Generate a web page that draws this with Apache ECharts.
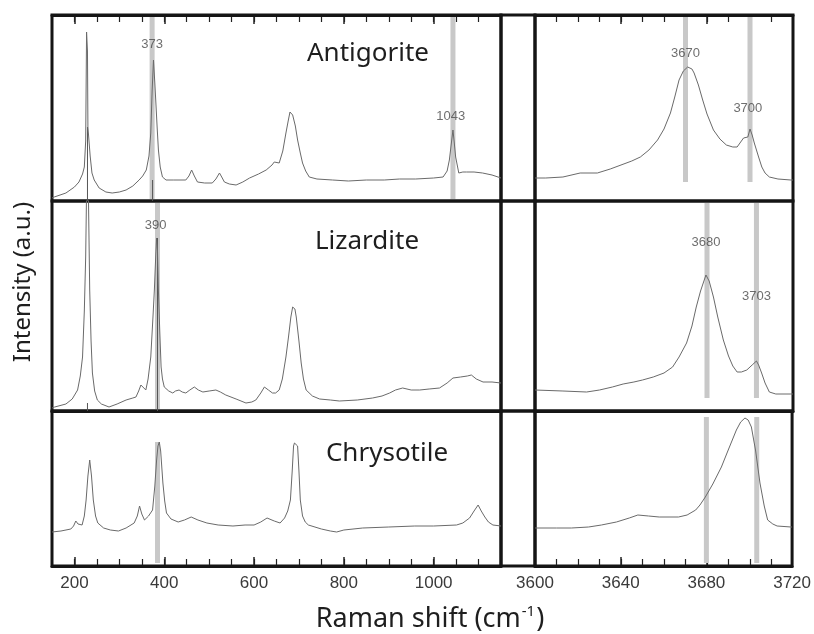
<!DOCTYPE html>
<html><head><meta charset="utf-8">
<script src="https://cdn.jsdelivr.net/npm/echarts@6/dist/echarts.min.js"></script>
<style>html,body{margin:0;padding:0;background:#fff}#c{width:814px;height:634px}</style>
</head><body><div id="c"></div>
<script>
// ---- tick labels ----
const leftTickLabels = [200, 400, 600, 800, 1000];
const rightTickLabels = [3600, 3640, 3680, 3720];
const mineralNames = ['Antigorite', 'Lizardite', 'Chrysotile'];

// ---- spectra [Raman shift, intensity] ----
const antigoriteLow = [[150,3],[155,4],[181,8],[200,14],[210,19],[218,27],[222,34],[225,60],[227,169],[229,150],[230,74],[232,72],[235,45],[239,28],[244,21],[255,13],[270,9],[284,8],[300,9],[315,11],[330,15],[344,21],[352,25],[360,31],[366,45],[370,68],[373,110],[376,141],[379,118],[381,101],[384,75],[387,51],[391,34],[396,24],[404,21],[420,21],[448,21],[455,25],[461,31],[467,25],[474,19],[490,18],[507,18],[515,22],[523,28],[528,24],[534,19],[545,17],[560,16],[575,19],[590,23],[610,27],[627,31],[640,36],[645,39],[656,38],[664,50],[671,68],[676,80],[680,89],[686,86],[692,75],[697,61],[703,48],[708,38],[715,30],[723,24],[740,22],[775,21],[810,20],[850,21],[890,21],[924,22],[960,22],[1000,23],[1021,24],[1030,30],[1035,41],[1040,60],[1043,71],[1046,58],[1049,44],[1056,28],[1065,29],[1073,29],[1090,29],[1109,28],[1130,26],[1150,23]];
const antigoriteOH = [[3600,23],[3605,23],[3613,24],[3621,28],[3629,28],[3635,32],[3640,36],[3645,40],[3649,44],[3653,51],[3657,61],[3660,72],[3663,88],[3665,104],[3667,121],[3669,130],[3671,134],[3673,132],[3674,128],[3676,116],[3678,101],[3680,87],[3683,71],[3686,62],[3689,56],[3692,54],[3694,54],[3696,60],[3697,63],[3699,64],[3700,72],[3701,66],[3702,58],[3704,44],[3705.5,34],[3707,28],[3709,24],[3713,22],[3719,21],[3720,21]];
const lizarditeLow = [[150,3],[156,4],[181,7],[195,12],[207,21],[213,35],[218,54],[222,100],[225,154],[227,220],[229,240],[231,220],[234,121],[237,70],[240,38],[245,20],[251,11],[260,7],[277,4],[295,7],[315,11],[330,13],[337,14],[343,20],[348,26],[352,24],[359,21],[364,32],[370,54],[375,95],[378,121],[381,155],[383,173],[385,160],[387,121],[390,80],[393,44],[396,32],[400,24],[410,20],[419,18],[425,20],[433,21],[440,19],[448,18],[457,21],[467,24],[476,21],[486,19],[500,20],[515,21],[525,19],[537,16],[560,12],[582,8],[595,9],[604,11],[615,18],[623,24],[632,21],[641,18],[648,18],[656,21],[663,32],[671,54],[677,75],[682,94],[686,104],[688,106],[691,102],[694,94],[700,70],[705,48],[710,32],[716,21],[730,15],[746,12],[770,11],[790,10],[830,11],[864,13],[885,15],[902,18],[915,21],[931,23],[950,21],[969,21],[990,22],[1013,23],[1030,28],[1043,33],[1060,34],[1075,35],[1084,36],[1095,32],[1110,29],[1130,29],[1150,28]];
const lizarditeOH = [[3600,21],[3613,20],[3624,19],[3630,21],[3636,24],[3641,27],[3646,29],[3650,31],[3655,34],[3660,38],[3664,44],[3667,54],[3670.5,68],[3673,85],[3675,104],[3677,120],[3679.5,136],[3681,130],[3683,114],[3685,94],[3687.6,71],[3690,55],[3692,45],[3694,39],[3696,39],[3698.5,41],[3701,46],[3703,50],[3704,46],[3705.4,38],[3707,28],[3709,19],[3712,17],[3719,17],[3720,17]];
const chrysotileLow = [[150,34],[152,34],[170,35],[192,37],[198,40],[203,45],[208,42],[217,41],[222,50],[226,66],[230,90],[234,106],[238,90],[242,66],[247,50],[252,43],[265,38],[280,36],[298,35],[315,38],[333,43],[340,50],[345,60],[350,52],[356,46],[365,50],[374,56],[379,80],[383,106],[386,120],[389,124],[392,115],[397,83],[401,65],[405,53],[415,47],[431,44],[445,46],[460,49],[475,46],[495,43],[520,41],[553,40],[580,41],[600,41],[615,44],[629,48],[645,45],[658,43],[668,48],[675,55],[681,66],[685,95],[688,120],[690,123],[694,124],[697,120],[700,95],[703,66],[708,50],[714,44],[721,41],[750,37],[770,35],[784,34],[800,36],[842,38],[900,39],[958,40],[1000,40],[1051,41],[1065,43],[1080,48],[1090,55],[1099,61],[1106,55],[1114,49],[1122,44],[1132,41],[1150,40]];
const chrysotileOH = [[3600,38],[3610,38],[3617,38],[3625,39],[3631,41],[3638,44],[3644,48],[3648,51],[3653,50],[3658,49],[3663,49],[3667,49],[3671,51],[3675,56],[3677,61],[3679.5,69],[3683,82],[3687,99],[3690,115],[3694,136],[3696,144],[3698,148],[3699.5,146],[3701,139],[3703,115],[3705,83],[3707,60],[3708.6,46],[3711,42],[3713,40],[3719.5,39],[3720,39]];

// ---- highlighted band positions [shift, from, to] ----
const antigoriteLowBands = [[373,2,184],[1043,2,184]];
const antigoriteOHBands = [[3670,19,184],[3700,19,184]];
const lizarditeLowBands = [[385,2,208]];
const lizarditeOHBands = [[3680,13,208],[3703,13,208]];
const chrysotileLowBands = [[385,3,124]];
const chrysotileOHBands = [[3680,3,149],[3703.5,3,149]];

// ---- thin marker lines [shift, from, to] ----
const antigoriteLowLines = [[229,0,74],[374,0,21]];
const lizarditeLowLines = [[229,0,8],[385,0,173]];

// ---- peak labels [shift, height, text] ----
const antigoriteLowLabels = [[373,157,'373'],[1038,85,'1043']];
const antigoriteOHLabels = [[3670,148,'3670'],[3699,93,'3700']];
const lizarditeLowLabels = [[381,186,'390']];
const lizarditeOHLabels = [[3679.5,169,'3680'],[3703,115,'3703']];

// ================= layout =================
const rows = [{top:15,height:186},{top:201,height:210},{top:411,height:155}];
const cols = {left:{left:52,width:449}, right:{left:535,width:258}, gap:{left:501,width:34}};
const leftRange = [150, 1150], rightRange = [3600, 3720];

const grid = [], xAxis = [], yAxis = [], series = [];
const tickColor = '#222';
const frameColor = '#151515';
const labelStyle = {color:'#3a3a3a', fontSize:17, fontFamily:'Liberation Sans', margin:9};

function addGrid(r, c){
  grid.push({left:c.left, top:rows[r].top, width:c.width, height:rows[r].height,
    show:true, borderColor:frameColor, borderWidth:3, backgroundColor:'transparent'});
  return grid.length-1;
}
function addY(g, max){
  yAxis.push({gridIndex:g, type:'value', min:0, max:max, show:false});
  return yAxis.length-1;
}
function axisLine(){ return {show:true, onZero:false, lineStyle:{color:frameColor, width:3}}; }

// tick strips: thin grids whose split lines act as inward ticks
function addTickStrip(col, range, sub, interval, len, atTop, width){
  const pxPerUnit = col.width / (range[1]-range[0]);
  const left = col.left + (sub[0]-range[0])*pxPerUnit;
  const w = (sub[1]-sub[0])*pxPerUnit;
  const top = atTop ? rows[0].top : rows[2].top + rows[2].height - len;
  grid.push({left:left, top:top, width:w, height:len, show:false});
  const g = grid.length-1;
  xAxis.push({gridIndex:g, type:'value', min:sub[0], max:sub[1], interval:interval,
    axisLine:{show:false}, axisTick:{show:false}, axisLabel:{show:false},
    splitLine:{show:true, lineStyle:{color:tickColor, width:width}}});
  addY(g, 1);
}

const panelX = [];
for (let r=0;r<3;r++){
  const pos = r===0 ? 'top' : 'bottom';
  const gl = addGrid(r, cols.left);
  xAxis.push({gridIndex:gl, type:'value', min:leftRange[0], max:leftRange[1], interval:50, position:pos,
    axisLine:axisLine(), splitLine:{show:false}, axisTick:{show:false},
    axisLabel:Object.assign({show:r===2, formatter:v => leftTickLabels.includes(v) ? String(v) : ''}, labelStyle)});
  const xl = xAxis.length-1;
  const yl = addY(gl, rows[r].height);
  const gr = addGrid(r, cols.right);
  xAxis.push({gridIndex:gr, type:'value', min:rightRange[0], max:rightRange[1], interval:40, position:pos,
    axisLine:axisLine(), splitLine:{show:false}, axisTick:{show:false},
    axisLabel:Object.assign({show:r===2, formatter:v => rightTickLabels.includes(v) ? String(v) : ''}, labelStyle)});
  const xr = xAxis.length-1;
  const yr = addY(gr, rows[r].height);
  const gg = addGrid(r, cols.gap);
  xAxis.push({gridIndex:gg, type:'value', min:0, max:1, show:false});
  addY(gg, rows[r].height);
  panelX.push([{x:xl,y:yl},{x:xr,y:yr}]);
}
[true, false].forEach(atTop => {
  addTickStrip(cols.left, leftRange, [200, 1100], 50, 7, atTop, 1.2);
  addTickStrip(cols.left, leftRange, [200, 1000], 200, 9, atTop, 1.5);
  addTickStrip(cols.right, rightRange, [3610, 3710], 10, 7, atTop, 1.2);
  addTickStrip(cols.right, rightRange, [3640, 3680], 40, 9, atTop, 1.5);
});

function addBands(ax, bands, color, width, z){
  bands.forEach(b => series.push({type:'line', xAxisIndex:ax.x, yAxisIndex:ax.y,
    data:[[b[0],b[1]],[b[0],b[2]]], symbol:'none', silent:true, z:z,
    lineStyle:{color:color, width:width, cap:'butt'}}));
}
function addSpectrum(ax, data){
  series.push({type:'line', xAxisIndex:ax.x, yAxisIndex:ax.y, data:data, symbol:'none',
    clip:true, z:3, lineStyle:{color:'#6a6a6a', width:1}});
}
function addLabels(ax, labels){
  series.push({type:'scatter', xAxisIndex:ax.x, yAxisIndex:ax.y, symbolSize:1, z:5,
    itemStyle:{color:'rgba(0,0,0,0)'},
    data:labels.map(l => ({value:[l[0],l[1]], name:l[2]})),
    label:{show:true, position:'inside', formatter:p => p.name, color:'#4a4a4a',
      fontSize:13, fontFamily:'Liberation Sans'}});
}

const spectra = [[antigoriteLow, antigoriteOH],[lizarditeLow, lizarditeOH],[chrysotileLow, chrysotileOH]];
const bands = [[antigoriteLowBands, antigoriteOHBands],[lizarditeLowBands, lizarditeOHBands],[chrysotileLowBands, chrysotileOHBands]];
const lines = [[antigoriteLowLines, []],[lizarditeLowLines, []],[[],[]]];
const labels = [[antigoriteLowLabels, antigoriteOHLabels],[lizarditeLowLabels, lizarditeOHLabels],[[],[]]];

for (let r=0;r<3;r++){
  for (let c=0;c<2;c++){
    const ax = panelX[r][c];
    addBands(ax, bands[r][c], '#c8c8c8', 5, 1);
    addBands(ax, lines[r][c], '#555', 1, 2);
    addSpectrum(ax, spectra[r][c]);
    addLabels(ax, labels[r][c]);
  }
}

const titleFont = 'Noto Sans';
const graphic = [
  {type:'text', x:368, y:54, style:{text:mineralNames[0], font:'26px "Noto Sans"', fill:'#1e1e1e', align:'center', verticalAlign:'middle'}},
  {type:'text', x:367, y:242, style:{text:mineralNames[1], font:'26px "Noto Sans"', fill:'#1e1e1e', align:'center', verticalAlign:'middle'}},
  {type:'text', x:387, y:454, style:{text:mineralNames[2], font:'26px "Noto Sans"', fill:'#1e1e1e', align:'center', verticalAlign:'middle'}},
  {type:'text', x:430, y:619, style:{text:'{a|Raman shift (cm}{s|-1}{a|)}', align:'center', verticalAlign:'middle',
    rich:{a:{fontSize:27, fontFamily:titleFont, fill:'#1e1e1e'}, s:{fontSize:15, fontFamily:titleFont, fill:'#1e1e1e', padding:[0,1,14,1]}}}},
  {type:'text', x:23, y:282, rotation:Math.PI/2, style:{text:'Intensity (a.u.)', font:'24px "Noto Sans"', fill:'#1e1e1e', align:'center', verticalAlign:'middle'}}
];

const chart = echarts.init(document.getElementById('c'), null, {renderer:'canvas'});
chart.setOption({animation:false, backgroundColor:'#fff', grid, xAxis, yAxis, series, graphic});
</script></body></html>
